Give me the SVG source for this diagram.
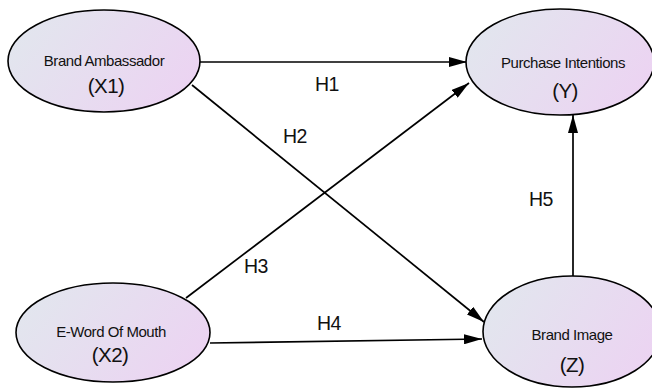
<svg xmlns="http://www.w3.org/2000/svg" width="652" height="389" viewBox="0 0 652 389">
<defs>
<linearGradient id="g" x1="0" y1="0.3" x2="1" y2="0.7">
<stop offset="0" stop-color="#e2e6ee"/>
<stop offset="1" stop-color="#ecd3f2"/>
</linearGradient>
<marker id="arr" viewBox="0 0 18 10" refX="18" refY="5" markerWidth="18" markerHeight="10" markerUnits="userSpaceOnUse" orient="auto">
<path d="M0,0 L18,5 L0,10 Z" fill="#000"/>
</marker>
</defs>
<style>
.node ellipse{fill:url(#g);stroke:#000;stroke-width:1.6}
.t{font-family:"Liberation Sans",Arial,sans-serif;text-anchor:middle;fill:#111}
.s{font-size:15px;letter-spacing:-0.45px}
.b{font-size:20.5px;letter-spacing:-0.6px}
.lbl{font-family:"Liberation Sans",Arial,sans-serif;font-size:19.5px;letter-spacing:-0.5px;text-anchor:middle;fill:#111}
.edges line{stroke:#000;stroke-width:1.7;marker-end:url(#arr)}
</style>
<g id="edges" class="edges">
<line x1="199" y1="62" x2="467" y2="62"/>
<line x1="192" y1="85" x2="484" y2="322"/>
<line x1="186" y1="298" x2="469" y2="83"/>
<line x1="210" y1="343" x2="482" y2="339"/>
<line x1="573" y1="276" x2="573" y2="115"/>
</g>
<g id="labels">
<text class="lbl" x="327" y="91">H1</text>
<text class="lbl" x="295" y="143">H2</text>
<text class="lbl" x="256" y="273">H3</text>
<text class="lbl" x="329" y="330">H4</text>
<text class="lbl" x="541" y="206">H5</text>
</g>
<g id="X1" class="node">
<ellipse cx="104" cy="61" rx="96" ry="51"/>
<text class="t s" x="104" y="66">Brand Ambassador</text>
<text class="t b" x="106" y="93">(X1)</text>
</g>
<g id="Y" class="node">
<ellipse cx="560" cy="62" rx="94" ry="53"/>
<text class="t s" x="563" y="68">Purchase Intentions</text>
<text class="t b" x="565" y="98">(Y)</text>
</g>
<g id="X2" class="node">
<ellipse cx="113" cy="332.5" rx="97" ry="49.5"/>
<text class="t s" x="111" y="337">E-Word Of Mouth</text>
<text class="t b" x="110" y="362">(X2)</text>
</g>
<g id="Z" class="node">
<ellipse cx="572" cy="331.5" rx="89" ry="55.5"/>
<text class="t s" x="572" y="340">Brand Image</text>
<text class="t b" x="572" y="372">(Z)</text>
</g>
</svg>
